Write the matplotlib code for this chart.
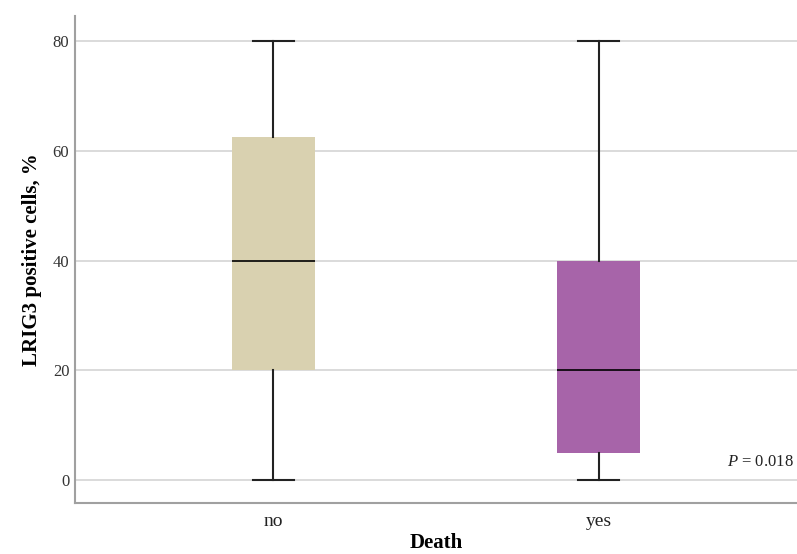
import matplotlib
matplotlib.use('Agg')
import matplotlib.pyplot as plt

# Box plot summary values
groups = ['no', 'yes']
whis_low = [0, 0]
q1 = [20, 5]
median = [40, 20]
q3 = [62.5, 40]
whis_high = [80, 80]
box_colors = ['#d9d1b0', '#a764a9']

plt.rcParams['font.family'] = 'Liberation Serif'
plt.rcParams['mathtext.fontset'] = 'custom'
plt.rcParams['mathtext.it'] = 'Liberation Serif:italic'
plt.rcParams['mathtext.rm'] = 'Liberation Serif'

fig = plt.figure(figsize=(7.97, 5.54), dpi=100)
ax = fig.add_axes([0.094, 0.092, 0.906, 0.879])

stats = []
for i, g in enumerate(groups):
    stats.append({
        'label': g,
        'whislo': whis_low[i],
        'q1': q1[i],
        'med': median[i],
        'q3': q3[i],
        'whishi': whis_high[i],
        'fliers': [],
    })

bp = ax.bxp(
    stats,
    positions=[1, 2],
    widths=0.255,
    patch_artist=True,
    showfliers=False,
    boxprops=dict(linewidth=0),
    medianprops=dict(color='black', linewidth=1.2),
    whiskerprops=dict(color='#222222', linewidth=1.5),
    capprops=dict(color='#222222', linewidth=1.5),
    capwidths=0.126,
)
for patch, c in zip(bp['boxes'], box_colors):
    patch.set_facecolor(c)
    patch.set_edgecolor(c)

ax.set_xlim(0.39, 2.61)
ax.set_ylim(-4.2, 84.6)
ax.set_yticks([0, 20, 40, 60, 80])
ax.yaxis.grid(True, color='#d4d4d4', linewidth=1.2)
ax.set_axisbelow(True)

for side in ['top', 'right']:
    ax.spines[side].set_visible(False)
for side in ['left', 'bottom']:
    ax.spines[side].set_color('#a0a0a0')
    ax.spines[side].set_linewidth(1.5)

ax.tick_params(axis='y', length=0, labelsize=12, colors='#333333', pad=4)
ax.tick_params(axis='x', length=0, labelsize=14, colors='#222222', pad=7)

ax.set_ylabel('LRIG3 positive cells, %', fontsize=15, fontweight='bold', labelpad=8)
ax.set_xlabel('Death', fontsize=15, fontweight='bold', labelpad=2)

# p-value annotation, just above the zero gridline at the right edge
ax.text(2.6, 3.3, r'$P$ = 0.018', ha='right', va='center',
        fontsize=12, color='#222222')

plt.savefig('out.png', dpi=100)
